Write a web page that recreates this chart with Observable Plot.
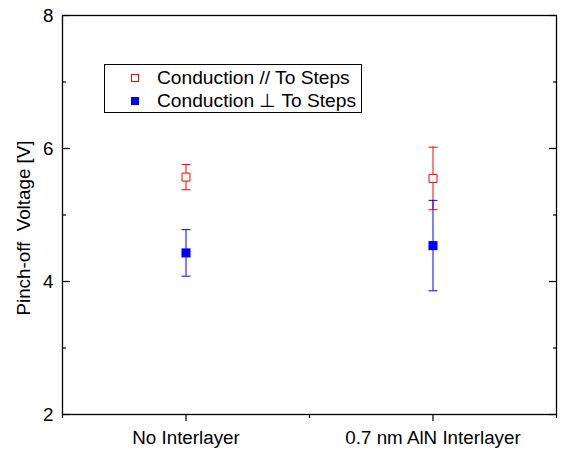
<!DOCTYPE html>
<html>
<head>
<meta charset="utf-8">
<script src="https://cdn.jsdelivr.net/npm/d3@7"></script>
<script src="https://cdn.jsdelivr.net/npm/@observablehq/plot@0.6"></script>
<style>
  html, body { margin: 0; padding: 0; background: #fff; }
  #chart { position: relative; width: 562px; height: 451px; font-family: "Liberation Sans", Arial, sans-serif; }
  #chart svg { display: block; }
  .legend { position: absolute; left: 104px; top: 64px; width: 258px; height: 49px; border: 1px solid #000; box-sizing: border-box; background: #fff; font-size: 19.2px; color: #000; }
  .legend .row { position: absolute; left: 0; height: 22px; line-height: 22px; white-space: nowrap; }
  .legend .mk { position: absolute; left: 26px; top: 7px; width: 8px; height: 8px; box-sizing: border-box; }
  .legend .tx { position: absolute; left: 52px; top: 0; }
</style>
</head>
<body>
<div id="chart"></div>
<script>
const categories = ["No Interlayer", "0.7 nm AlN Interlayer"];
const seriesNames = ["Conduction // To Steps", "Conduction \u22A5 To Steps"];
const seriesColors = ["#ff0000", "#0000ff"];
const parallelMean = [5.57, 5.55];
const parallelErr = [0.19, 0.47];
const perpMean = [4.43, 4.54];
const perpErr = [0.35, 0.68];
const yMajorTicks = [2, 4, 6, 8];
const yMinorTicks = [3, 5, 7];
const xMajorTicks = [1, 2];
const xMinorTicks = [0.5, 1.5, 2.5];
const yTitle = "Pinch-off\u00a0\u00a0Voltage [V]";

const rows = [];
categories.forEach((c, i) => {
  rows.push({pos: i + 1, category: c, series: seriesNames[0], mean: parallelMean[i], err: parallelErr[i]});
  rows.push({pos: i + 1, category: c, series: seriesNames[1], mean: perpMean[i], err: perpErr[i]});
});

const capSymbol = {
  draw(ctx, size) {
    const r = Math.sqrt(size / Math.PI);
    ctx.moveTo(-r, 0);
    ctx.lineTo(r, 0);
  }
};

const fontSize = 18.8;
const blank = () => "";

const plot = Plot.plot({
  width: 562,
  height: 451,
  marginLeft: 62,
  marginRight: 6,
  marginTop: 15,
  marginBottom: 37,
  style: {fontFamily: '"Liberation Sans", Arial, sans-serif', fontSize: fontSize + "px", color: "#000", background: "#fff"},
  x: {type: "linear", domain: [0.5, 2.5]},
  y: {domain: [2, 8]},
  color: {domain: seriesNames, range: seriesColors},
  marks: [
    // error bars
    Plot.ruleX(rows, {x: "pos", y1: d => d.mean - d.err, y2: d => d.mean + d.err, stroke: "series", strokeWidth: 1}),
    Plot.dot(rows, {x: "pos", y: d => d.mean + d.err, symbol: capSymbol, r: 4.5, stroke: "series", strokeWidth: 1}),
    Plot.dot(rows, {x: "pos", y: d => d.mean - d.err, symbol: capSymbol, r: 4.5, stroke: "series", strokeWidth: 1}),
    // open squares (parallel)
    Plot.dot(rows.filter(d => d.series === seriesNames[0]), {x: "pos", y: "mean", symbol: "square", r: 4.5, stroke: "series", fill: "#fff", strokeWidth: 1}),
    // filled squares (perpendicular)
    Plot.dot(rows.filter(d => d.series === seriesNames[1]), {x: "pos", y: "mean", symbol: "square", r: 5.1, fill: "series", stroke: null}),
    // frame
    Plot.frame({stroke: "#000", strokeWidth: 1.3}),
    // left axis
    Plot.axisY({anchor: "left", ticks: yMajorTicks, tickSize: -8, tickFormat: blank, label: null, strokeWidth: 1.2}),
    Plot.axisY({anchor: "left", ticks: yMinorTicks, tickSize: -4, tickFormat: blank, label: null, strokeWidth: 1.2}),
    Plot.axisY({anchor: "left", ticks: yMajorTicks, tickSize: 0, tickPadding: 9, tickFormat: d => String(d), label: null, fontSize: fontSize, fill: "#000"}),
    // right axis
    Plot.axisY({anchor: "right", ticks: yMajorTicks, tickSize: -8, tickFormat: blank, label: null, strokeWidth: 1.2}),
    Plot.axisY({anchor: "right", ticks: yMinorTicks, tickSize: -4, tickFormat: blank, label: null, strokeWidth: 1.2}),
    // bottom axis
    Plot.axisX({anchor: "bottom", ticks: xMajorTicks, tickSize: 7, tickPadding: 9, tickFormat: d => categories[d - 1], label: null, fontSize: fontSize, fill: "#000", strokeWidth: 1.2}),
    Plot.axisX({anchor: "bottom", ticks: xMinorTicks, tickSize: 4, tickFormat: blank, label: null, strokeWidth: 1.2}),
    // y title
    Plot.text([yTitle], {frameAnchor: "left", textAnchor: "middle", lineAnchor: "middle", rotate: -90, dx: -39, dy: 13, fontSize: fontSize, fill: "#000"})
  ]
});

const chart = document.getElementById("chart");
chart.appendChild(plot);

const legend = document.createElement("div");
legend.className = "legend";
const rowTops = [2, 25];
seriesNames.forEach((name, i) => {
  const row = document.createElement("div");
  row.className = "row";
  row.style.top = rowTops[i] + "px";
  const mk = document.createElement("div");
  mk.className = "mk";
  if (i === 0) {
    mk.style.border = "1px solid " + seriesColors[i];
    mk.style.background = "#fff";
  } else {
    mk.style.background = seriesColors[i];
  }
  const tx = document.createElement("span");
  tx.className = "tx";
  tx.textContent = name;
  row.appendChild(mk);
  row.appendChild(tx);
  legend.appendChild(row);
});
chart.appendChild(legend);
</script>
</body>
</html>
